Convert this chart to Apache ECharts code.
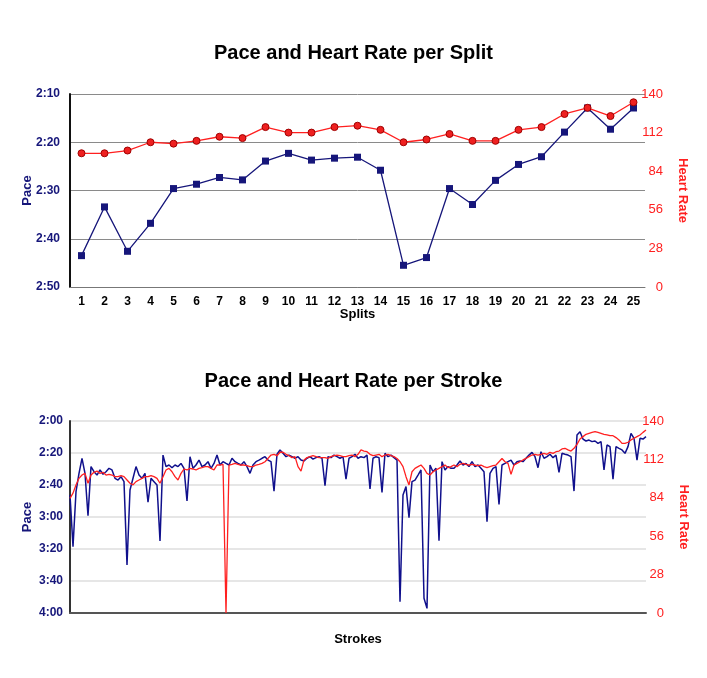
<!DOCTYPE html>
<html>
<head>
<meta charset="utf-8">
<script src="https://cdn.jsdelivr.net/npm/echarts@6/dist/echarts.min.js"></script>
<style>
html,body{margin:0;padding:0;background:#fff;}
#c{width:707px;height:678px;}
</style>
</head>
<body>
<div id="c"></div>
<script>
// ---- Split chart data ----
var splitCategories = ['1','2','3','4','5','6','7','8','9','10','11','12','13','14','15','16','17','18','19','20','21','22','23','24','25'];
// pace in seconds per 500m
var splitPace = [163.5,153.4,162.6,156.8,149.6,148.7,147.3,147.8,143.9,142.3,143.7,143.3,143.1,145.8,165.5,163.9,149.6,152.9,147.9,144.6,143.0,137.9,132.9,137.3,132.9];
var splitHR = [97,97,99,105,104,106,109,108,116,112,112,116,117,114,105,107,111,106,106,114,116,125.5,130,124,134];
var splitPaceTicks = ['2:10','2:20','2:30','2:40','2:50'];
var hrTicks = ['0','28','56','84','112','140'];

// ---- Stroke chart data ----
var strokePace = [166.3,198.5,164.2,152.7,143.3,152.7,179.2,148.5,151.7,153.8,150.6,153.3,151.7,149.6,150.6,155.8,156.9,154.8,157.9,210,163.1,155.8,148.5,153.8,155.8,152.7,170.8,155.8,157.9,160,195,141.3,148.5,147.5,149.2,147.5,148.5,146.5,149.6,170,142.3,149.6,147.5,144.4,148.5,147.5,145.4,149.6,146.5,
141.3,147.5,145.4,146.5,147.5,143.3,145.4,146.5,147.5,145.4,148.5,152.7,147.5,145.4,144.4,143.3,142.3,144.4,145.4,163.8,140.8,138.1,140.2,142.3,141.3,142.3,143.3,142.3,144.4,145,143.3,142.3,143.8,142.9,142.3,143.3,160.4,142.3,142.9,141.3,142.3,143.3,142.3,156.3,143.3,142.3,140.8,143.3,
142.3,142.9,141.3,162.5,143.3,142.3,142.9,164.6,140.2,142.3,141.3,142.9,144.4,232.9,166.3,161,180.4,157.9,156.9,153.8,150.6,230.8,237.1,147.5,151.7,149.6,194.8,145.4,150.6,148.5,149.6,149.6,147.5,145,147.5,146.5,148.5,145.4,148.5,147.5,149.6,151.7,182.9,152.7,149.6,148.5,172.1,147.5,
146.5,145.4,144.4,147.5,145.4,145,145.4,143.3,141.3,139.6,142.3,149.2,139.2,143.3,142.3,140.8,142.9,141.3,152.1,140.2,140.8,141.3,142.3,163.8,128.8,126.7,131.3,132.5,131.9,132.9,132.5,134,132.9,150.6,135,136,156.3,136,137.1,138.1,140.2,136,127.7,130.8,144.4,130.8,131.3,129.8];
var strokeHR = [83.6,87.4,93.4,98.2,100.6,101.8,94.6,100.6,102.6,103.5,101.8,102.6,100.6,101.1,100.6,99.4,99.4,100.1,99.4,97,94.6,93.4,95.8,97,98.2,99.4,99.4,100.1,99.4,98.2,94.6,99.4,104.3,105.5,103,99.4,97,101.8,105,104.3,105.5,105,104.3,105.5,106,106.7,106.7,105.5,104.3,
107.9,107.9,108.4,0,107.9,108.4,109.1,108.4,107.9,107.9,107.4,106.7,106.7,107.9,108.4,109.1,110.3,112.7,115.2,115.7,114.7,117.2,117.2,115.7,114.7,113.3,114,106.7,103.5,111.6,113.3,114,114.7,114,113.3,113.3,113.3,112.7,114,114.7,115.2,114.7,114,114,114.7,115.2,114,115.7,
118.9,118.1,117.6,115.7,114.7,115.2,115.7,114,115.2,115.7,114.7,114,112.7,110.3,106.7,99.4,93.4,103,105.5,106.7,107.9,105.5,101.8,100.6,103,104.3,105.5,106.7,107.9,106,106.7,107.9,106.7,108.4,109.1,108.4,107.9,108.4,107.9,107.4,107.9,106.7,106,106.7,107.4,107.9,110.3,112.7,
110.3,109.1,101.1,107.9,109.1,110.3,111.6,112.7,114,115.2,115.7,115.2,115.7,116.4,115.7,117.2,116.4,117.6,118.1,119.6,120.1,118.9,118.1,120.1,123,126.9,128.6,130.3,131,131.7,132.2,131.7,131,130.3,129.8,129.3,129.3,127.9,126.2,123.7,123.7,124.5,126.2,127.4,128.6,129.8,131.7,133.4];
var strokeCategories = strokePace.map(function(_, i){ return String(i + 1); });
var strokePaceTicks = ['2:00','2:20','2:40','3:00','3:20','3:40','4:00'];

var NAVY = '#16167a';
var RED = '#ff2020';
var TFONT = "'Liberation Sans', Arial, Helvetica, sans-serif";

function tickFmt(arr, min, step){ return function(v){ var k = Math.round((v - min) / step); return arr[k] !== undefined ? arr[k] : ''; }; }

var chart = echarts.init(document.getElementById('c'), null, {renderer: 'canvas'});
chart.setOption({
  backgroundColor: '#fff',
  animation: false,
  title: [
    {text: 'Pace and Heart Rate per Split', left: 'center', top: 38,
     textStyle: {fontFamily: TFONT, fontSize: 20, fontWeight: 'bold', color: '#000'}},
    {text: 'Pace and Heart Rate per Stroke', left: 'center', top: 366,
     textStyle: {fontFamily: TFONT, fontSize: 20, fontWeight: 'bold', color: '#000'}}
  ],
  grid: [
    {left: 70, right: 62, top: 94, bottom: 391},
    {left: 70, right: 61, top: 421, bottom: 65}
  ],
  xAxis: [
    {type: 'category', gridIndex: 0, data: splitCategories, boundaryGap: true,
     name: 'Splits', nameLocation: 'middle', nameGap: 21, nameMoveOverlap: false,
     nameTextStyle: {fontFamily: TFONT, fontSize: 13, fontWeight: 'bold', color: '#000', verticalAlign: 'top'},
     axisLine: {show: true, lineStyle: {color: '#777', width: 1}},
     axisTick: {show: false},
     axisLabel: {fontFamily: TFONT, fontSize: 12, fontWeight: 'bold', color: '#000', margin: 9, interval: 0}},
    {type: 'category', gridIndex: 1, data: strokeCategories, boundaryGap: false,
     name: 'Strokes', nameLocation: 'middle', nameGap: 20, nameMoveOverlap: false,
     nameTextStyle: {fontFamily: TFONT, fontSize: 13, fontWeight: 'bold', color: '#000', verticalAlign: 'top'},
     axisLine: {show: true, lineStyle: {color: '#555', width: 2}},
     axisTick: {show: false}, axisLabel: {show: false}}
  ],
  yAxis: [
    {type: 'value', gridIndex: 0, position: 'left', inverse: true, min: 130, max: 170, interval: 10,
     name: 'Pace', nameLocation: 'middle', nameGap: 36, nameRotate: 90, nameMoveOverlap: false,
     nameTextStyle: {fontFamily: TFONT, fontSize: 13, fontWeight: 'bold', color: NAVY},
     axisLine: {show: true, lineStyle: {color: '#111', width: 2}},
     axisTick: {show: false},
     splitLine: {show: true, lineStyle: {color: '#8a8a8a', width: 1}},
     axisLabel: {fontFamily: TFONT, fontSize: 12, fontWeight: 'bold', color: NAVY, margin: 10,
                 formatter: tickFmt(splitPaceTicks, 130, 10)}},
    {type: 'value', gridIndex: 0, position: 'right', min: 0, max: 140, interval: 28,
     name: 'Heart Rate', nameLocation: 'middle', nameGap: 31, nameRotate: -90, nameMoveOverlap: false,
     nameTextStyle: {fontFamily: TFONT, fontSize: 13, fontWeight: 'bold', color: RED},
     axisLine: {show: false}, axisTick: {show: false}, splitLine: {show: false},
     axisLabel: {fontFamily: TFONT, fontSize: 13, color: RED, margin: 18, align: 'right',
                 formatter: tickFmt(hrTicks, 0, 28)}},
    {type: 'value', gridIndex: 1, position: 'left', inverse: true, min: 120, max: 240, interval: 20,
     name: 'Pace', nameLocation: 'middle', nameGap: 36, nameRotate: 90, nameMoveOverlap: false,
     nameTextStyle: {fontFamily: TFONT, fontSize: 13, fontWeight: 'bold', color: NAVY},
     axisLine: {show: true, lineStyle: {color: '#333', width: 2}},
     axisTick: {show: false},
     splitLine: {show: true, lineStyle: {color: '#e6e6e6', width: 2}},
     axisLabel: {fontFamily: TFONT, fontSize: 12, fontWeight: 'bold', color: NAVY, margin: 7,
                 formatter: tickFmt(strokePaceTicks, 120, 20)}},
    {type: 'value', gridIndex: 1, position: 'right', min: 0, max: 140, interval: 28,
     name: 'Heart Rate', nameLocation: 'middle', nameGap: 31, nameRotate: -90, nameMoveOverlap: false,
     nameTextStyle: {fontFamily: TFONT, fontSize: 13, fontWeight: 'bold', color: RED},
     axisLine: {show: false}, axisTick: {show: false}, splitLine: {show: false},
     axisLabel: {fontFamily: TFONT, fontSize: 13, color: RED, margin: 18, align: 'right',
                 formatter: tickFmt(hrTicks, 0, 28)}}
  ],
  series: [
    {name: 'Pace', type: 'line', xAxisIndex: 0, yAxisIndex: 0, data: splitPace,
     symbol: 'rect', symbolSize: 7, showAllSymbol: true,
     lineStyle: {color: NAVY, width: 1.3}, itemStyle: {color: NAVY}},
    {name: 'Heart Rate', type: 'line', xAxisIndex: 0, yAxisIndex: 1, data: splitHR,
     symbol: 'circle', symbolSize: 7, showAllSymbol: true,
     lineStyle: {color: RED, width: 1.3}, itemStyle: {color: '#ee2020', borderColor: '#a00000', borderWidth: 1}},
    {name: 'Pace', type: 'line', xAxisIndex: 1, yAxisIndex: 2, data: strokePace,
     symbol: 'none', lineStyle: {color: '#10108c', width: 1.5}},
    {name: 'Heart Rate', type: 'line', xAxisIndex: 1, yAxisIndex: 3, data: strokeHR,
     symbol: 'none', lineStyle: {color: RED, width: 1.3}}
  ]
});
</script>
</body>
</html>
